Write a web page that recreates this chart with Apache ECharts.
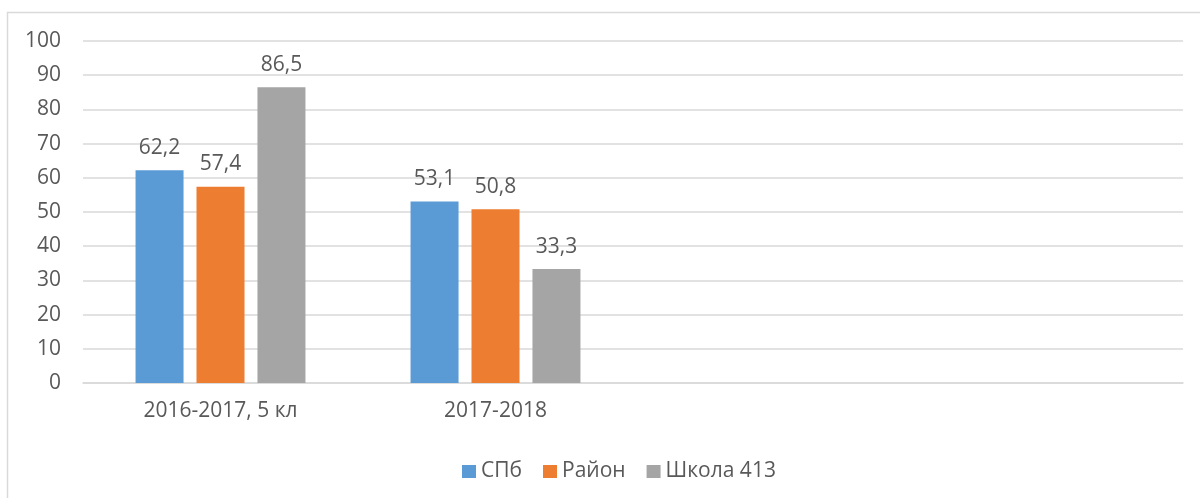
<!DOCTYPE html>
<html>
<head>
<meta charset="utf-8">
<script src="https://cdn.jsdelivr.net/npm/echarts@6/dist/echarts.min.js"></script>
<style>
html,body{margin:0;padding:0;background:#fff;}
#chart{width:1200px;height:498px;}
</style>
</head>
<body>
<div id="chart"></div>
<script>
const categories = ['2016-2017, 5 кл', '2017-2018', '', ' '];
const seriesNames = ['СПб', 'Район', 'Школа 413'];
const spbValues = [62.2, 53.1, null, null];
const raionValues = [57.4, 50.8, null, null];
const schoolValues = [86.5, 33.3, null, null];
const yTicks = [0, 10, 20, 30, 40, 50, 60, 70, 80, 90, 100];

const colors = ['#5b9bd5', '#ed7d31', '#a5a5a5'];
const font = '"Open Sans", "Liberation Sans", sans-serif';
const textColor = '#595959';

const chart = echarts.init(document.getElementById('chart'), null, {renderer: 'canvas'});

function makeSeries(name, data, color) {
  return {
    name: name,
    type: 'bar',
    data: data,
    barWidth: 48,
    barGap: '27%',
    itemStyle: {color: color},
    label: {
      show: true,
      position: 'top',
      distance: 12,
      color: textColor,
      fontFamily: font,
      fontSize: 21,
      formatter: p => p.value == null ? '' : String(p.value.toFixed(1)).replace('.', ',')
    }
  };
}

chart.setOption({
  animation: false,
  backgroundColor: '#fff',
  color: colors,
  graphic: [{
    type: 'rect',
    shape: {x: 7.5, y: 12.5, width: 1400, height: 700},
    style: {fill: 'none', stroke: '#d9d9d9', lineWidth: 1.5},
    silent: true,
    z: -10
  }],
  grid: {left: 83, right: 17, top: 41, bottom: 115, containLabel: false},
  legend: {
    data: seriesNames,
    left: 457,
    top: 456,
    itemWidth: 14,
    itemHeight: 13,
    itemGap: 21,
    icon: 'rect',
    textStyle: {color: textColor, fontFamily: font, fontSize: 21, padding: [0, 0, 0, 0]}
  },
  xAxis: {
    type: 'category',
    data: categories,
    axisLine: {show: true, lineStyle: {color: '#d9d9d9', width: 1.5}},
    axisTick: {show: false},
    axisLabel: {color: textColor, fontFamily: font, fontSize: 21, margin: 18, interval: 0}
  },
  yAxis: {
    type: 'value',
    min: yTicks[0],
    max: yTicks[yTicks.length - 1],
    interval: 10,
    axisLine: {show: false},
    axisTick: {show: false},
    splitLine: {lineStyle: {color: '#d9d9d9', width: 1.5}},
    axisLabel: {color: textColor, fontFamily: font, fontSize: 21, margin: 22}
  },
  series: [
    makeSeries(seriesNames[0], spbValues, colors[0]),
    makeSeries(seriesNames[1], raionValues, colors[1]),
    makeSeries(seriesNames[2], schoolValues, colors[2])
  ]
});
</script>
</body>
</html>
